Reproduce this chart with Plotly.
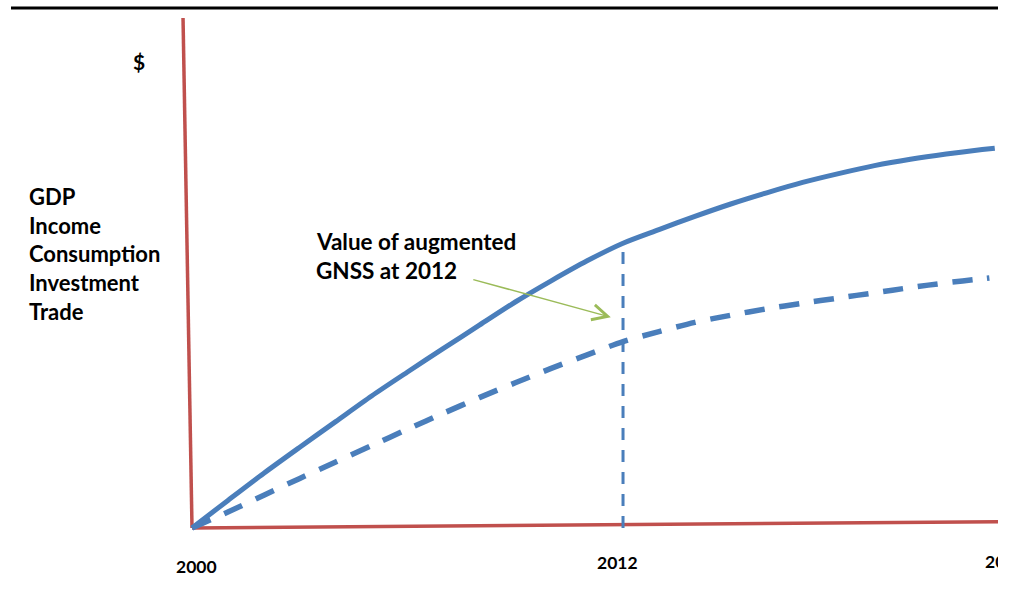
import plotly.graph_objects as go

# ---- data (arbitrary $ units) ----
years = list(range(2000, 2023))
with_gnss = [0, 6.9, 13.7, 20.2, 26.6, 33.0, 39.0, 44.9, 50.7, 56.5, 61.8, 66.8,
             71.2, 74.6, 77.9, 81.0, 83.8, 86.4, 88.6, 90.6, 92.2, 93.5, 94.6]
without_gnss = [0, 4.0, 8.2, 12.4, 16.5, 20.6, 24.7, 28.7, 32.6, 36.3, 39.9, 43.3,
                46.6, 49.1, 51.4, 53.2, 54.8, 56.2, 57.5, 58.8, 60.1, 61.3, 62.3]
end_with = (2022.35, 94.95)
end_without = (2022.2, 62.5)
marker_year = 2012
tick_labels = ["2000", "2012", "2020"]
y_labels = ["GDP", "Income", "Consumption", "Investment", "Trade"]
note_lines = ["Value of augmented", "GNSS at 2012"]

W, H = 998, 597
BLUE = "#4A7EBB"
RED = "#C0504D"
GREEN = "#9BBB59"
FONT = "Lato"

x_range = [1994.654, 2022.44]
y_range = [-17.25, 132.0]


def px(x):
    return x / W


def py(y):
    return 1 - y / H


xw = years + [end_with[0]]
yw = with_gnss + [end_with[1]]
xo = years + [end_without[0]]
yo = without_gnss + [end_without[1]]
marker_val = with_gnss[years.index(marker_year)]

fig = go.Figure()
fig.add_trace(go.Scatter(x=[marker_year, marker_year], y=[0, marker_val], mode="lines",
                         line=dict(color=BLUE, width=3, dash="12px,10px"),
                         hoverinfo="skip"))
fig.add_trace(go.Scatter(x=xo, y=yo, mode="lines",
                         line=dict(color=BLUE, width=5.5, dash="20px,15px",
                                   shape="spline", smoothing=0.8)))
fig.add_trace(go.Scatter(x=xw, y=yw, mode="lines",
                         line=dict(color=BLUE, width=5, shape="spline", smoothing=0.8)))

shapes = [
    # red axes
    dict(type="line", xref="x", yref="y", x0=1999.75, y0=127.5, x1=2000, y1=0,
         line=dict(color=RED, width=3.5), layer="below"),
    dict(type="line", xref="x", yref="y", x0=2000, y0=0, x1=2022.6, y1=1.6,
         line=dict(color=RED, width=3.5), layer="below"),
    # black rule at top
    dict(type="line", xref="paper", yref="paper", x0=px(11), x1=1.0, y0=py(8), y1=py(8),
         line=dict(color="black", width=3)),
]

annotations = []
bold = dict(family=FONT, color="black", weight="bold")
annotations.append(dict(xref="paper", yref="paper", x=px(139), y=py(62), text="$",
                        showarrow=False, xanchor="center", yanchor="middle",
                        font=dict(size=21, **bold)))
for i, t in enumerate(y_labels):
    annotations.append(dict(xref="paper", yref="paper", x=px(27), y=py(196.5 + 28.75 * i),
                            text=t, showarrow=False, xanchor="left", yanchor="middle",
                            font=dict(size=22, **bold)))
for i, t in enumerate(note_lines):
    annotations.append(dict(xref="paper", yref="paper", x=px(314), y=py(241.5 + 29 * i),
                            text=t, showarrow=False, xanchor="left", yanchor="middle",
                            font=dict(size=22.5, **bold)))
annotations.append(dict(xref="x", yref="y", axref="x", ayref="y",
                        x=2011.66, y=52.7, ax=2007.79, ay=62.2, text="",
                        showarrow=True, arrowhead=5, arrowsize=2, arrowwidth=1.5,
                        arrowcolor=GREEN))
tick_pos = [(196, 566.5, "center"), (617.5, 562.5, "center"), (983, 561.5, "left")]
for (x, y, anc), t in zip(tick_pos, tick_labels):
    annotations.append(dict(xref="paper", yref="paper", x=px(x), y=py(y), text=t,
                            showarrow=False, xanchor=anc, yanchor="middle",
                            font=dict(size=17.5, **bold)))

fig.update_layout(
    width=W, height=H, margin=dict(l=0, r=0, t=0, b=0),
    paper_bgcolor="white", plot_bgcolor="white", showlegend=False,
    xaxis=dict(range=x_range, visible=False, fixedrange=True),
    yaxis=dict(range=y_range, visible=False, fixedrange=True),
    shapes=shapes, annotations=annotations,
)

fig.write_html("out.html", config={"displayModeBar": False},
               post_script="document.body.style.margin='0';")
